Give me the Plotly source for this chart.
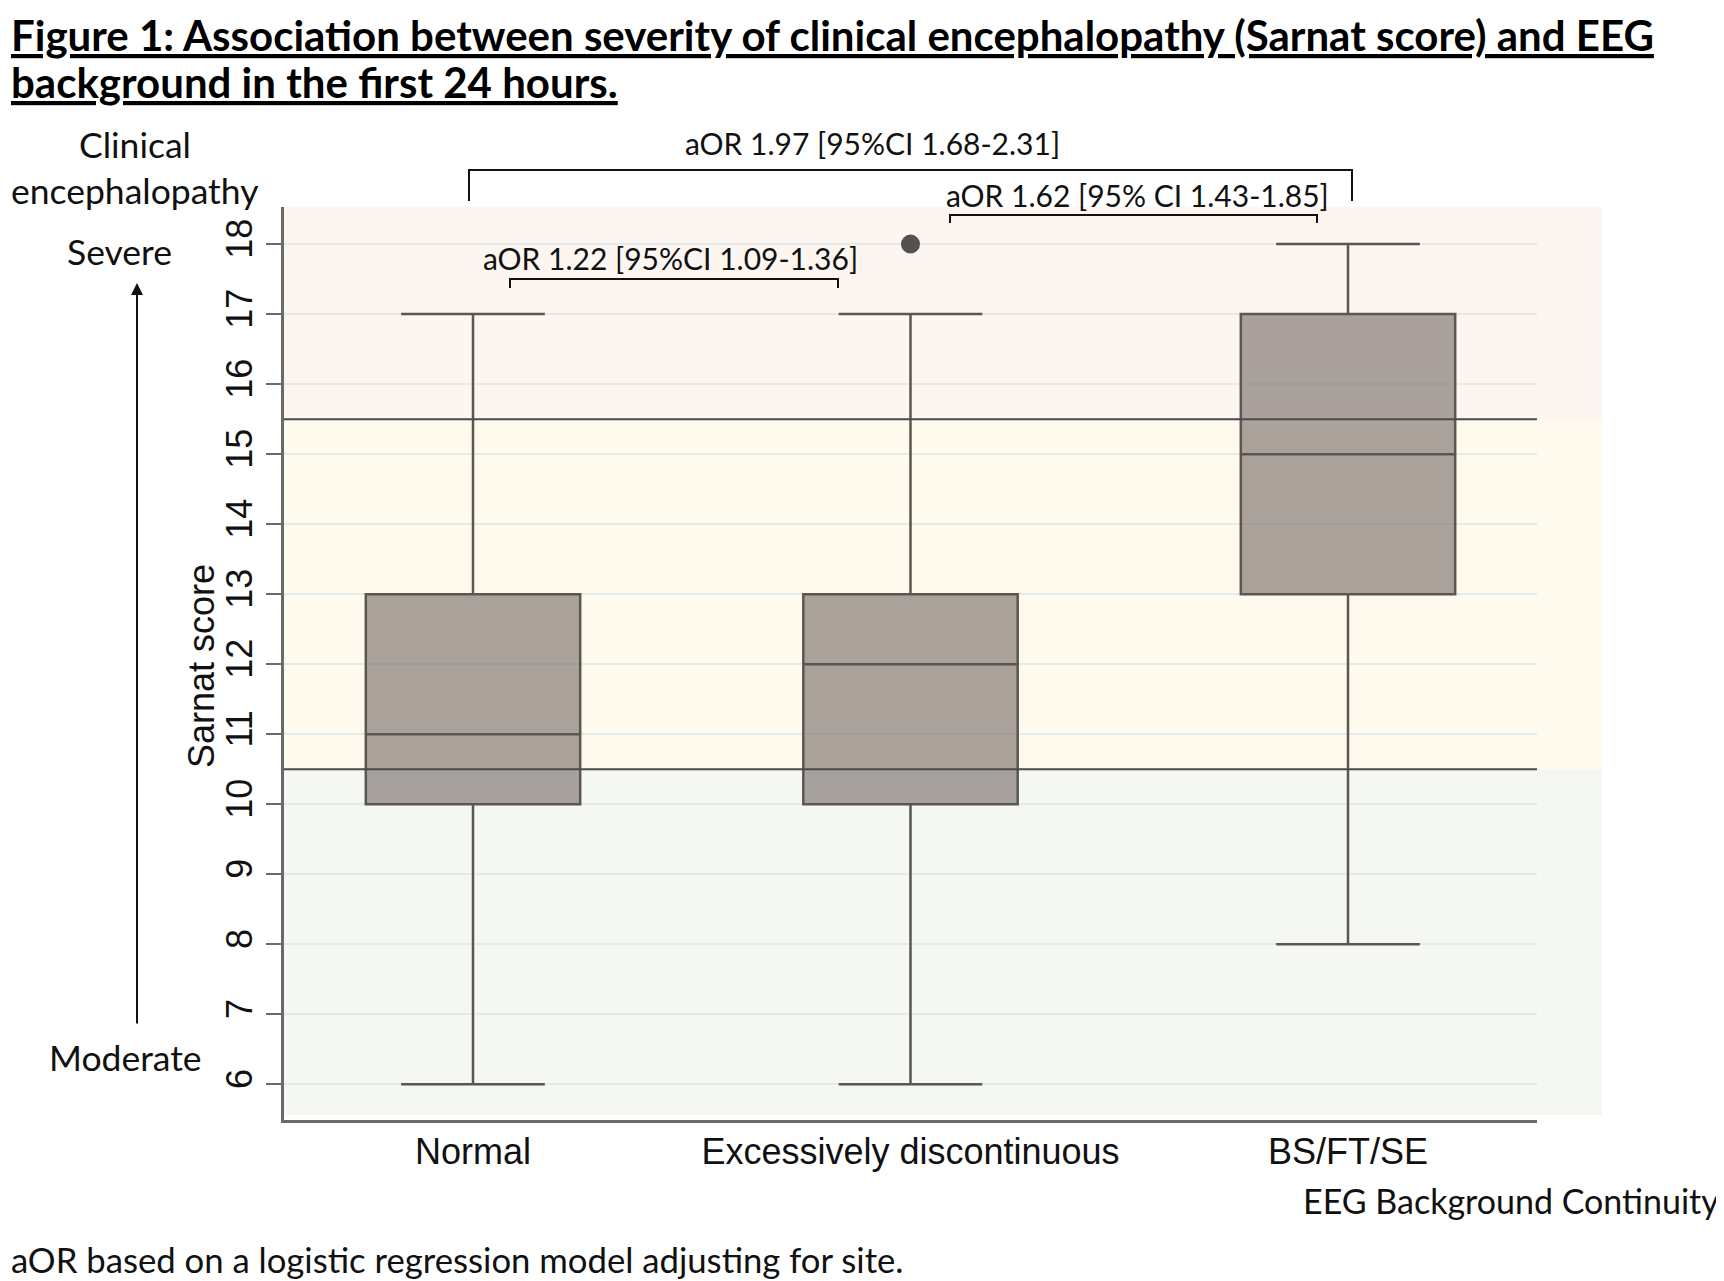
import plotly.graph_objects as go

# ---------------- data ----------------
categories = ["Normal", "Excessively discontinuous", "BS/FT/SE"]
lower_whisker = [6, 6, 8]
q1_values = [10, 10, 13]
median_values = [11, 12, 15]
q3_values = [13, 13, 17]
upper_whisker = [17, 17, 18]
outlier_categories = ["Excessively discontinuous"]
outlier_values = [18]
y_ticks = [6, 7, 8, 9, 10, 11, 12, 13, 14, 15, 16, 17, 18]
severity_cutoffs = [10.5, 15.5]

title_line1 = "Figure 1: Association between severity of clinical encephalopathy (Sarnat score) and EEG"
title_line2 = "background in the first 24 hours."
aor_labels = ["aOR 1.97 [95%CI 1.68-2.31]", "aOR 1.62 [95% CI 1.43-1.85]", "aOR 1.22 [95%CI 1.09-1.36]"]
footnote = "aOR based on a logistic regression model adjusting for site."
y_title = "Sarnat score"
x_title = "EEG Background Continuity"

# ---------------- geometry helpers (page pixel coords) ----------------
OFF = 8  # default body margin of the html page
W, H = 1724 - OFF, 1281 - OFF
L, R, T, B = 284, 1537, 207, 1120  # plot area in page pixels


def px(x):
    return (x - L) / (R - L)


def py(y):
    return (B - y) / (B - T)


STATA_FONT = "Liberation Sans, Arial, sans-serif"
CAL_FONT = "Lato, Open Sans, sans-serif"

fig = go.Figure()

fig.add_trace(go.Box(
    x=categories,
    q1=q1_values,
    median=median_values,
    q3=q3_values,
    lowerfence=lower_whisker,
    upperfence=upper_whisker,
    boxpoints=False,
    width=0.49,
    whiskerwidth=0.67,
    fillcolor="rgba(114,104,98,0.6)",
    line=dict(color="#5b5650", width=2.5),
    showlegend=False,
    hoverinfo="skip",
))

fig.add_trace(go.Scatter(
    x=outlier_categories,
    y=outlier_values,
    mode="markers",
    marker=dict(size=19, color="#545250"),
    showlegend=False,
    hoverinfo="skip",
))

ymin, ymax = 5.49, 18.53

# background bands
band_colors = ["#f5f8f2", "#fffaee", "#fdf5f0"]
band_edges = [5.56, severity_cutoffs[0], severity_cutoffs[1], ymax]
for i, c in enumerate(band_colors):
    fig.add_shape(type="rect", xref="paper", yref="y",
                  x0=0, x1=px(1602), y0=band_edges[i], y1=band_edges[i + 1],
                  fillcolor=c, line=dict(width=0), layer="below")

# cutoff lines
for c in severity_cutoffs:
    fig.add_shape(type="line", xref="paper", yref="y", x0=0, x1=1, y0=c, y1=c,
                  line=dict(color="#4a4a4a", width=2), layer="above")

# brackets
brackets = [
    (469, 1352, 170, 201),
    (950, 1317, 215, 223),
    (510, 838, 279, 288),
]
for x0, x1, ytop, yleg in brackets:
    fig.add_shape(type="path", xref="paper", yref="paper",
                  path=f"M {px(x0)},{py(yleg)} L {px(x0)},{py(ytop)} L {px(x1)},{py(ytop)} L {px(x1)},{py(yleg)}",
                  line=dict(color="#111111", width=2))

label_pos = [(872, 143), (1137, 195), (670, 258)]
for txt, (x, y) in zip(aor_labels, label_pos):
    fig.add_annotation(text=txt, xref="paper", yref="paper", x=px(x), y=py(y),
                       xanchor="center", yanchor="middle", showarrow=False,
                       font=dict(family=CAL_FONT, size=30, color="#111111"))

# left side labels
side = [("Clinical", 135, 144), ("encephalopathy", 135, 191), ("Severe", 119, 251), ("Moderate", 125, 1057)]
for txt, x, y in side:
    fig.add_annotation(text=txt, xref="paper", yref="paper", x=px(x), y=py(y),
                       xanchor="center", yanchor="middle", showarrow=False,
                       font=dict(family=CAL_FONT, size=35.5, color="#111111"))

# arrow
fig.add_annotation(text="", xref="paper", yref="paper", x=px(137), y=py(283),
                   ax=0, ay=1025 - 283, showarrow=True, arrowhead=2, arrowsize=1.2,
                   arrowwidth=2, arrowcolor="#111111")

# title
fig.add_annotation(text=f"<b><u>{title_line1}</u></b>", xref="paper", yref="paper",
                   x=px(9), y=py(35), xanchor="left", yanchor="middle", showarrow=False,
                   font=dict(family=CAL_FONT, size=42, color="#000000"))
fig.add_annotation(text=f"<b><u>{title_line2}</u></b>", xref="paper", yref="paper",
                   x=px(9), y=py(82), xanchor="left", yanchor="middle", showarrow=False,
                   font=dict(family=CAL_FONT, size=42, color="#000000"))

# y axis title
fig.add_annotation(text=y_title, xref="paper", yref="paper", x=px(201), y=py(666),
                   xanchor="center", yanchor="middle", textangle=-90, showarrow=False,
                   font=dict(family=STATA_FONT, size=36, color="#111111"))

# x axis title
fig.add_annotation(text=x_title, xref="paper", yref="paper",
                   x=px(1721), y=py(1200), xanchor="right", yanchor="middle", showarrow=False,
                   font=dict(family=CAL_FONT, size=34, color="#111111"))

# footnote
fig.add_annotation(text=footnote, xref="paper", yref="paper",
                   x=px(9), y=py(1259), xanchor="left", yanchor="middle", showarrow=False,
                   font=dict(family=CAL_FONT, size=34.7, color="#111111"))

fig.update_layout(
    width=W, height=H, autosize=False,
    margin=dict(l=L - OFF, r=W - (R - OFF), t=T - OFF, b=H - (B - OFF), pad=0),
    paper_bgcolor="white", plot_bgcolor="white",
    showlegend=False,
)

fig.update_xaxes(
    type="category", range=[-0.432, 2.432],
    showline=True, linecolor="#6a6a6a", linewidth=3,
    showgrid=False, zeroline=False, ticks="",
    tickfont=dict(family=STATA_FONT, size=36, color="#111111"),
    ticklabelstandoff=-2,
)

fig.update_yaxes(
    range=[ymin, ymax], tickvals=y_ticks, ticktext=[str(v) for v in y_ticks],
    tickangle=-90,
    showline=True, linecolor="#6a6a6a", linewidth=2.5,
    ticks="outside", ticklen=15, tickwidth=2, tickcolor="#6a6a6a",
    showgrid=True, gridcolor="#e3eaea", gridwidth=2, zeroline=False,
    tickfont=dict(family=STATA_FONT, size=36, color="#111111"),
    ticklabelstandoff=0,
)

fig.write_html("out.html")
